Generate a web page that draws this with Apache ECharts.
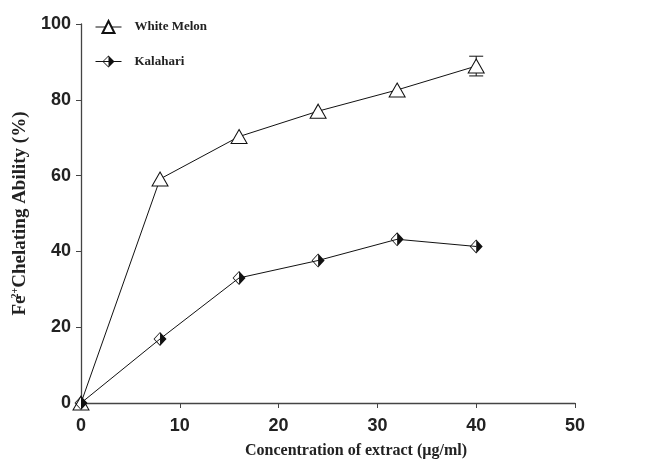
<!DOCTYPE html>
<html><head><meta charset="utf-8">
<script src="https://cdn.jsdelivr.net/npm/echarts@6/dist/echarts.min.js"></script>
<style>html,body{margin:0;padding:0;background:#fff}#c{width:661px;height:465px}</style>
</head><body><div id="c"></div>
<script>
var concentrations = [0, 8, 16, 24, 32, 40];
var whiteMelon = [0, 59.1, 70.3, 77.0, 82.6, 88.9];
var kalahari = [0, 16.9, 33.0, 37.6, 43.2, 41.3];
var whiteMelonErr = [0, 0, 0, 0, 0, 2.6];
var xTicks = [0, 10, 20, 30, 40, 50];
var yTicks = [0, 20, 40, 60, 80, 100];

var halfDiamond = 'path://M10,0 L20,10 L10,20 Z M10,0 L0,10 L1.6,10 L10,1.6 Z M0,10 L10,20 L10,18.4 L1.6,10 Z';

var chart = echarts.init(document.getElementById('c'));
var pairs = function(ys){ return concentrations.map(function(x,i){return [x, ys[i]];}); };
var errData = concentrations.map(function(x,i){return [x, whiteMelon[i]-whiteMelonErr[i], whiteMelon[i]+whiteMelonErr[i]];})
  .filter(function(d,i){return whiteMelonErr[i] > 0;});
var axisColor = '#444';
chart.setOption({
  animation: false,
  grid: {left: 81, right: 86, top: 24, bottom: 62},
  legend: {
    orient: 'vertical', left: 90, top: 15, itemGap: 21, itemWidth: 26, itemHeight: 15,
    lineStyle: {width: 1},
    textStyle: {fontFamily: 'Liberation Serif', fontWeight: 'bold', fontSize: 13, color: '#222', padding: [0,0,0,8]},
    data: ['White Melon', 'Kalahari']
  },
  xAxis: {
    type: 'value', min: 0, max: 50, interval: 10,
    name: 'Concentration of extract (µg/ml)', nameLocation: 'middle', nameGap: 40,
    nameTextStyle: {fontFamily: 'Liberation Serif', fontWeight: 'bold', fontSize: 16, color: '#222', padding: [0,0,0,56]},
    axisLine: {lineStyle: {color: axisColor, width: 1.3}},
    axisTick: {show: true, length: 5, lineStyle: {color: axisColor}},
    axisLabel: {fontFamily: 'Liberation Sans', fontWeight: 'bold', fontSize: 18, color: '#222', margin: 14,
      formatter: function(v){ return xTicks.indexOf(v) >= 0 ? String(v) : ''; }},
    splitLine: {show: false}
  },
  yAxis: {
    type: 'value', min: 0, max: 100, interval: 20,
    name: '{a|Fe}{s|2+}{a|Chelating Ability (%)}', nameLocation: 'middle', nameGap: 50, nameRotate: 90,
    nameTextStyle: {rich: {
      a: {fontFamily: 'Liberation Serif', fontWeight: 'bold', fontSize: 19, color: '#222'},
      s: {fontFamily: 'Liberation Serif', fontWeight: 'bold', fontSize: 10, color: '#222', verticalAlign: 'top', padding: [0,0,10,-3]}
    }},
    axisLine: {show: true, lineStyle: {color: axisColor, width: 1.3}},
    axisTick: {show: true, length: 5, lineStyle: {color: axisColor}},
    axisLabel: {fontFamily: 'Liberation Sans', fontWeight: 'bold', fontSize: 18, color: '#222', margin: 10,
      formatter: function(v){ return yTicks.indexOf(v) >= 0 ? String(v) : ''; }},
    splitLine: {show: false}
  },
  series: [
    {
      name: 'White Melon', type: 'line', data: pairs(whiteMelon), z: 3,
      symbol: 'triangle', symbolSize: [16, 14], showAllSymbol: true,
      lineStyle: {color: '#111', width: 1},
      itemStyle: {color: '#fff', borderColor: '#111', borderWidth: 1}
    },
    {
      name: 'Kalahari', type: 'line', data: pairs(kalahari), z: 3,
      symbol: halfDiamond, symbolSize: [13, 14], showAllSymbol: true,
      lineStyle: {color: '#111', width: 1},
      itemStyle: {color: '#111', borderWidth: 0}
    },
    {
      name: 'White Melon err', type: 'custom', data: errData, z: 2,
      renderItem: function(params, api){
        var x = api.value(0);
        var lo = api.coord([x, api.value(1)]);
        var hi = api.coord([x, api.value(2)]);
        var w = 7;
        var st = {stroke: '#111', lineWidth: 1};
        return {type: 'group', children: [
          {type: 'line', shape: {x1: lo[0], y1: lo[1], x2: hi[0], y2: hi[1]}, style: st},
          {type: 'line', shape: {x1: lo[0]-w, y1: lo[1], x2: lo[0]+w, y2: lo[1]}, style: st},
          {type: 'line', shape: {x1: hi[0]-w, y1: hi[1], x2: hi[0]+w, y2: hi[1]}, style: st}
        ]};
      }
    }
  ]
});
</script>
</body></html>
